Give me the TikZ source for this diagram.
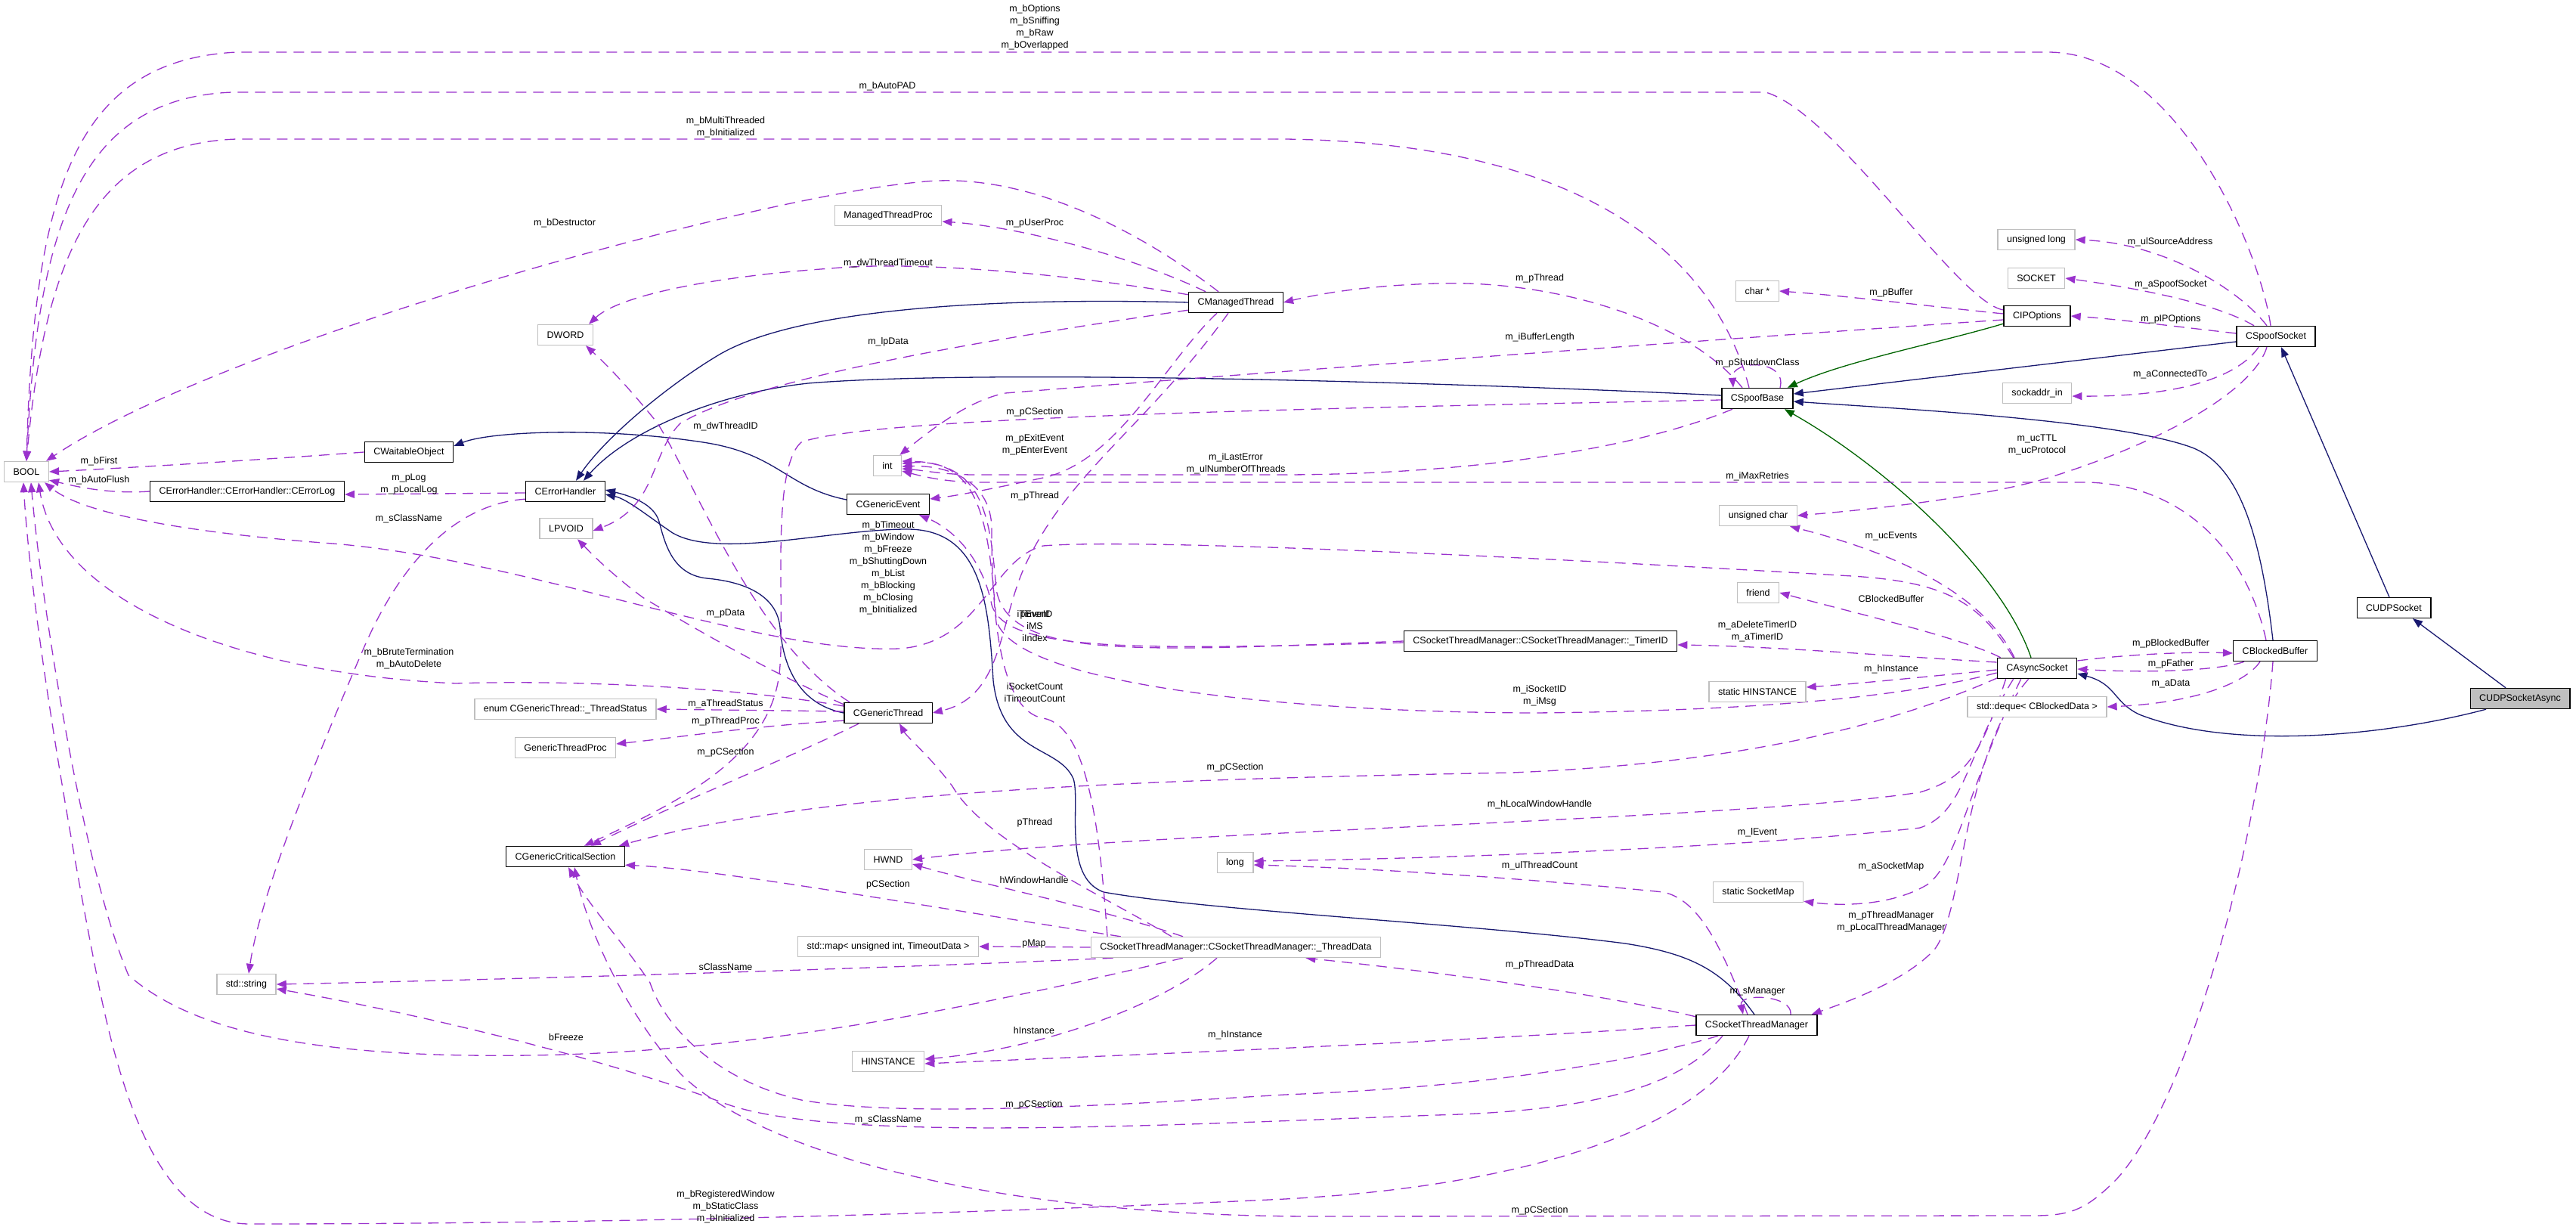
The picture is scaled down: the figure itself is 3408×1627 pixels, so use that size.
\documentclass[tikz,border=0pt]{standalone}
\usepackage{fontspec}
\setmainfont{Liberation Sans}
\usetikzlibrary{arrows.meta,calc}
\definecolor{usec}{HTML}{9A32CD}
\definecolor{inhc}{HTML}{191970}
\definecolor{pinhc}{HTML}{006400}
\definecolor{greyb}{HTML}{BFBFBF}
\newcommand\dfont{\fontsize{12.5}{16}\selectfont}
\pgfdeclarelayer{bg}
\pgfsetlayers{bg,main}
\tikzset{
  clsbox/.style={draw=black, line width=1.4pt, fill=white, minimum height=27pt, inner xsep=12pt, inner ysep=2pt, font=\dfont},
  extbox/.style={clsbox, draw=greyb},
  mainbox/.style={clsbox, fill=greyb},
  elabel/.style={font=\dfont, align=center, inner sep=0pt},
  usedge/.style={draw=usec, line width=1.3pt, dash pattern=on 14pt off 9pt, -{Triangle[length=13pt,width=10pt]}},
  inhedge/.style={draw=inhc, line width=1.3pt, -{Triangle[length=13pt,width=10pt]}},
  pinhedge/.style={draw=pinhc, line width=1.3pt, -{Triangle[length=13pt,width=10pt]}},
}
\begin{document}
\begin{tikzpicture}[x=1pt,y=-1pt]
\useasboundingbox (0,0) rectangle (3408,1627);
% ---------------- nodes ----------------
\node[extbox] (bool) at (35,624) {BOOL};
\node[clsbox] (waitobj) at (541,598) {CWaitableObject};
\node[clsbox] (errlog) at (327,650) {CErrorHandler::CErrorHandler::CErrorLog};
\node[clsbox] (cerrh) at (748,650) {CErrorHandler};
\node[extbox] (lpvoid) at (749,699) {LPVOID};
\node[extbox] (dword) at (748,443) {DWORD};
\node[extbox] (mtproc) at (1175,285) {ManagedThreadProc};
\node[clsbox] (mthread) at (1635,400) {CManagedThread};
\node[extbox] (tstatus) at (748,938) {enum CGenericThread::\_ThreadStatus};
\node[extbox] (gtproc) at (748,989) {GenericThreadProc};
\node[clsbox] (cgcs) at (748,1133) {CGenericCriticalSection};
\node[extbox] (stdstring) at (326,1302) {std::string};
\node[extbox] (intn) at (1174,616) {int};
\node[clsbox] (cgevent) at (1175,667) {CGenericEvent};
\node[clsbox] (gthread) at (1175,943) {CGenericThread};
\node[extbox] (hwnd) at (1175,1137) {HWND};
\node[extbox] (stdmap) at (1175,1252) {std::map< unsigned int, TimeoutData >};
\node[extbox] (hinst) at (1175,1404) {HINSTANCE};
\node[extbox] (tdata) at (1635,1253) {CSocketThreadManager::CSocketThreadManager::\_ThreadData};
\node[extbox] (longn) at (1634,1141) {long};
\node[clsbox] (timerid) at (2038,848) {CSocketThreadManager::CSocketThreadManager::\_TimerID};
\node[extbox] (charp) at (2325,385) {char *};
\node[clsbox] (spoofbase) at (2325,527) {CSpoofBase};
\node[extbox] (uchar) at (2326,682) {unsigned char};
\node[extbox] (friendn) at (2326,784) {friend};
\node[extbox] (shinst) at (2325,915) {static HINSTANCE};
\node[extbox] (ssockmap) at (2326,1180) {static SocketMap};
\node[clsbox] (cstm) at (2324,1356) {CSocketThreadManager};
\node[extbox] (ulong) at (2694,317) {unsigned long};
\node[extbox] (socketn) at (2694,368) {SOCKET};
\node[clsbox] (cipopt) at (2695,418) {CIPOptions};
\node[extbox] (sockaddr) at (2695,520) {sockaddr\_in};
\node[clsbox] (casync) at (2695,884) {CAsyncSocket};
\node[extbox] (deque) at (2695,935) {std::deque< CBlockedData >};
\node[clsbox] (spoofsock) at (3011,445) {CSpoofSocket};
\node[clsbox] (cblock) at (3010,861) {CBlockedBuffer};
\node[clsbox] (cudp) at (3167,804) {CUDPSocket};
\node[mainbox] (cudpa) at (3334,924) {CUDPSocketAsync};
% ---------------- edges ----------------
\begin{pgfonlayer}{bg}
\fill[white] (0,0) rectangle (3408,1627);
% inheritance
\draw[inhedge] ($(cudpa.north)+(-19,0)$) -- ($(cudp.south)+(25,0)$);
\draw[inhedge] ($(cudpa.south)+(-45,0)$) .. controls (3150,975) and (2950,992) .. (2830,945) .. controls (2795,928) and (2800,905) .. ($(casync.east)+(0,7)$);
\draw[inhedge] ($(cudp.north)+(-6,0)$) -- ($(spoofsock.south)+(7,0)$);
\draw[inhedge] ($(spoofsock.west)+(0,7)$) -- ($(spoofbase.east)+(0,-6)$);
\draw[pinhedge] ($(cipopt.south west)+(0,-4)$) .. controls (2560,455) and (2440,478) .. ($(spoofbase.north east)+(-8,0)$);
\draw[inhedge] ($(cblock.north)+(-3,0)$) .. controls (2990,700) and (2960,615) .. (2900,592) .. controls (2800,555) and (2500,540) .. ($(spoofbase.east)+(0,4)$);
\draw[pinhedge] ($(casync.north)+(-8,0)$) .. controls (2650,760) and (2500,620) .. ($(spoofbase.south east)+(-12,0)$);
\draw[inhedge] (mthread.west) .. controls (1300,393) and (1050,410) .. (950,470) .. controls (880,512) and (800,580) .. ($(cerrh.north)+(14,0)$);
\draw[inhedge] ($(spoofbase.west)+(0,-4)$) .. controls (1900,505) and (1300,488) .. (1069,507) .. controls (950,520) and (830,570) .. ($(cerrh.north)+(24,0)$);
\draw[inhedge] ($(cgevent.west)+(0,-6)$) .. controls (1040,645) and (1030,600) .. (930,585) .. controls (800,565) and (650,570) .. ($(waitobj.east)+(0,-8)$);
\draw[inhedge] (gthread.west) .. controls (1050,930) and (1035,870) .. (1032,830) .. controls (1028,790) and (990,770) .. (935,765) .. controls (890,760) and (880,720) .. (872,690) .. controls (865,665) and (830,655) .. ($(cerrh.east)+(0,-2)$);
\draw[inhedge] ($(cstm.north)+(-3,0)$) .. controls (2280,1285) and (2240,1262) .. (2150,1248) .. controls (1950,1222) and (1600,1205) .. (1460,1180) .. controls (1405,1160) and (1430,1060) .. (1420,1030) .. controls (1400,985) and (1325,1000) .. (1314,900) .. controls (1308,800) and (1300,700) .. (1200,700) .. controls (1100,700) and (950,740) .. (890,705) .. controls (860,685) and (830,660) .. ($(cerrh.east)+(0,4)$);
% usage -> BOOL
\draw[usedge] ($(spoofsock.north)+(-7,0)$) .. controls (2990,330) and (2880,69) .. (2709,69) -- (313,69) .. controls (100,80) and (45,250) .. (bool.north);
\draw[usedge] ($(cipopt.west)+(0,-8)$) .. controls (2590,400) and (2430,150) .. (2336,122) -- (307,122) .. controls (110,130) and (50,290) .. (bool.north);
\draw[usedge] ($(spoofbase.north)+(-11,0)$) .. controls (2280,380) and (2150,190) .. (1700,184) -- (313,184) .. controls (130,190) and (60,330) .. (bool.north);
\draw[usedge] ($(mthread.north)+(-23,0)$) .. controls (1500,300) and (1350,225) .. (1215,241) .. controls (1000,260) and (300,450) .. ($(bool.north east)+(-4,0)$);
\draw[usedge] (waitobj.west) .. controls (350,608) and (150,620) .. (bool.east);
\draw[usedge] (errlog.west) .. controls (140,654) and (95,642) .. ($(bool.south east)+(0,-3)$);
\draw[usedge] ($(gthread.west)+(0,-9)$) .. controls (950,905) and (720,900) .. (603,904) .. controls (300,890) and (75,790) .. ($(bool.south)+(16,0)$);
\draw[usedge] ($(casync.north west)+(22,0)$) .. controls (2620,800) and (2580,770) .. (2450,762) .. controls (2000,735) and (1500,712) .. (1380,722) .. controls (1310,740) and (1300,850) .. (1190,858) .. controls (1000,865) and (700,740) .. (440,719) .. controls (250,705) and (110,680) .. ($(bool.south east)+(-6,0)$);
\draw[usedge] ($(tdata.south)+(-70,0)$) .. controls (1300,1330) and (1000,1392) .. (700,1396) .. controls (400,1400) and (250,1360) .. (170,1290) .. controls (110,1150) and (55,800) .. ($(bool.south)+(6,0)$);
\draw[usedge] ($(cstm.south)+(-10,0)$) .. controls (2250,1500) and (2000,1570) .. (1700,1586) .. controls (1300,1605) and (800,1619) .. (330,1619) .. controls (230,1619) and (170,1500) .. (130,1300) .. controls (90,1100) and (40,800) .. ($(bool.south)+(-4,0)$);
% CSpoofSocket uses
\draw[usedge] ($(spoofsock.north)+(-12,0)$) .. controls (2960,380) and (2860,322) .. (ulong.east);
\draw[usedge] ($(spoofsock.north)+(-29,0)$) .. controls (2930,400) and (2820,380) .. (socketn.east);
\draw[usedge] ($(spoofsock.west)+(0,-4)$) .. controls (2880,432) and (2800,422) .. (cipopt.east);
\draw[usedge] ($(spoofsock.south)+(-23,0)$) .. controls (2960,500) and (2880,525) .. ($(sockaddr.east)+(0,4)$);
\draw[usedge] ($(spoofsock.south)+(-12,0)$) .. controls (2980,520) and (2850,590) .. (2700,635) .. controls (2600,662) and (2450,676) .. (uchar.east);
% CIPOptions uses
\draw[usedge] ($(cipopt.west)+(0,-3)$) .. controls (2550,405) and (2450,392) .. (charp.east);
\draw[usedge] ($(cipopt.west)+(0,5)$) .. controls (2400,440) and (1700,490) .. (1330,520) .. controls (1280,530) and (1230,570) .. ($(intn.north east)+(-3,0)$);
% CSpoofBase uses
\draw[usedge] ($(spoofbase.north)+(30,0)$) .. controls (2365,475) and (2290,475) .. ($(spoofbase.north)+(-32,0)$);
\draw[usedge] ($(spoofbase.north)+(-20,0)$) .. controls (2230,420) and (2050,370) .. (1900,375) .. controls (1800,378) and (1740,390) .. (mthread.east);
\draw[usedge] ($(spoofbase.south)+(-33,0)$) .. controls (2200,580) and (2000,627) .. (1700,628) -- (1290,628) .. controls (1250,628) and (1220,622) .. ($(intn.east)+(0,4)$);
\draw[usedge] ($(spoofbase.west)+(0,2)$) .. controls (1700,541) and (1150,552) .. (1060,585) .. controls (1020,620) and (1038,800) .. (1032,880) .. controls (1025,1000) and (900,1060) .. ($(cgcs.north)+(25,0)$);
% CBlockedBuffer uses
\draw[usedge] ($(cblock.north)+(-12,0)$) .. controls (2970,720) and (2880,640) .. (2760,638) -- (1300,638) .. controls (1250,638) and (1220,630) .. ($(intn.east)+(0,7)$);
\draw[usedge] ($(cblock.south west)+(15,0)$) .. controls (2940,886) and (2850,891) .. ($(casync.east)+(0,1)$);
\draw[usedge] ($(cblock.south)+(-20,0)$) .. controls (2970,905) and (2900,930) .. (deque.east);
\draw[usedge] ($(cblock.south)+(-3,0)$) .. controls (2990,1100) and (2900,1450) .. (2800,1560) .. controls (2760,1600) and (2740,1608) .. (2690,1608) -- (1750,1609) .. controls (1300,1610) and (1000,1520) .. (900,1420) .. controls (820,1330) and (775,1220) .. ($(cgcs.south)+(12,0)$);
% CAsyncSocket uses
\draw[usedge] ($(casync.north)+(-30,0)$) .. controls (2620,780) and (2500,730) .. ($(uchar.south east)+(-10,0)$);
\draw[usedge] ($(casync.north west)+(5,0)$) .. controls (2600,845) and (2450,810) .. (friendn.east);
\draw[usedge] ($(casync.west)+(0,-8)$) .. controls (2500,868) and (2350,855) .. ($(timerid.east)+(0,5)$);
\draw[usedge] ($(casync.west)+(0,2)$) .. controls (2550,895) and (2450,905) .. ($(shinst.east)+(0,-6)$);
\draw[usedge] ($(casync.west)+(0,6)$) .. controls (2560,911) and (2400,940) .. (2029,943) .. controls (1700,942) and (1340,905) .. (1318,820) .. controls (1308,700) and (1300,605) .. ($(intn.east)+(0,-3)$);
\draw[usedge] ($(casync.south west)+(2,-2)$) .. controls (2500,960) and (2300,1010) .. (2000,1022) .. controls (1600,1030) and (1100,1040) .. ($(cgcs.north east)+(-8,0)$);
\draw[usedge] ($(casync.south west)+(12,0)$) .. controls (2620,1000) and (2600,1030) .. (2540,1048) .. controls (2300,1085) and (1500,1100) .. (hwnd.east);
\draw[usedge] ($(casync.south west)+(22,0)$) .. controls (2600,1000) and (2600,1075) .. (2540,1095) .. controls (2300,1122) and (1900,1136) .. ($(longn.east)+(0,-2)$);
\draw[usedge] ($(casync.south west)+(32,0)$) .. controls (2600,1050) and (2590,1140) .. (2550,1170) .. controls (2500,1200) and (2430,1198) .. ($(ssockmap.south east)+(0,-2)$);
\draw[usedge] ($(casync.south west)+(42,0)$) .. controls (2595,1000) and (2600,1200) .. (2560,1255) .. controls (2520,1300) and (2430,1330) .. ($(cstm.north east)+(-8,0)$);
\draw[usedge] ($(casync.east)+(0,-10)$) .. controls (2820,865) and (2900,862) .. ($(cblock.west)+(0,3)$);
% _TimerID uses
\draw[usedge] (timerid.west) .. controls (1500,862) and (1335,872) .. (1318,780) .. controls (1310,680) and (1300,612) .. ($(intn.east)+(0,-6)$);
\draw[usedge] ($(timerid.west)+(0,2)$) .. controls (1500,860) and (1330,862) .. (1312,800) .. controls (1300,740) and (1262,700) .. ($(cgevent.south east)+(-14,0)$);
% CManagedThread uses
\draw[usedge] ($(mthread.north)+(-40,0)$) .. controls (1500,340) and (1350,300) .. ($(mtproc.east)+(0,8)$);
\draw[usedge] ($(mthread.north west)+(0,4)$) .. controls (1400,360) and (1200,345) .. (1100,355) .. controls (950,365) and (820,390) .. ($(dword.north east)+(-6,0)$);
\draw[usedge] ($(mthread.south west)+(0,-4)$) .. controls (1300,450) and (1000,500) .. (900,560) .. controls (860,600) and (870,670) .. ($(lpvoid.east)+(0,3)$);
\draw[usedge] ($(mthread.south)+(-25,0)$) .. controls (1540,480) and (1480,610) .. (1380,632) .. controls (1320,645) and (1270,655) .. ($(cgevent.east)+(0,-7)$);
\draw[usedge] ($(mthread.south)+(-10,0)$) .. controls (1520,560) and (1420,620) .. (1360,740) .. controls (1320,820) and (1330,920) .. (gthread.east);
% CGenericThread uses
\draw[usedge] ($(gthread.north west)+(8,0)$) .. controls (1000,850) and (920,640) .. (870,560) .. controls (830,510) and (800,480) .. ($(dword.south east)+(-10,0)$);
\draw[usedge] ($(gthread.north west)+(0,3)$) .. controls (1000,880) and (900,820) .. (850,790) .. controls (810,760) and (785,735) .. ($(lpvoid.south)+(15,0)$);
\draw[usedge] ($(gthread.west)+(0,-2)$) -- (tstatus.east);
\draw[usedge] ($(gthread.south west)+(0,-4)$) .. controls (1000,960) and (900,975) .. ($(gtproc.east)+(0,-5)$);
\draw[usedge] ($(gthread.south west)+(20,0)$) .. controls (1050,1000) and (900,1060) .. ($(cgcs.north)+(34,0)$);
% _ThreadData uses
\draw[usedge] ($(tdata.north)+(-170,0)$) .. controls (1455,1100) and (1440,960) .. (1380,950) .. controls (1320,940) and (1312,800) .. (1312,700) .. controls (1312,640) and (1260,615) .. ($(intn.east)+(0,1)$);
\draw[usedge] ($(tdata.north)+(-85,0)$) .. controls (1450,1180) and (1300,1110) .. (1260,1040) .. controls (1230,1000) and (1200,975) .. ($(gthread.south)+(15,0)$);
\draw[usedge] ($(tdata.north)+(-70,0)$) .. controls (1450,1200) and (1300,1170) .. ($(hwnd.east)+(0,6)$);
\draw[usedge] ($(tdata.north west)+(40,0)$) .. controls (1200,1195) and (950,1150) .. ($(cgcs.south east)+(0,-3)$);
\draw[usedge] (tdata.west) -- (stdmap.east);
\draw[usedge] ($(tdata.south west)+(30,0)$) .. controls (1200,1280) and (700,1295) .. (stdstring.east);
\draw[usedge] ($(tdata.south)+(-25,0)$) .. controls (1550,1320) and (1400,1385) .. ($(hinst.east)+(0,-3)$);
% CSocketThreadManager uses
\draw[usedge] ($(cstm.north)+(45,0)$) .. controls (2372,1316) and (2300,1313) .. ($(cstm.north)+(-18,0)$);
\draw[usedge] ($(cstm.north west)+(0,3)$) .. controls (2100,1310) and (1850,1280) .. ($(tdata.south east)+(-100,0)$);
\draw[usedge] ($(cstm.north)+(-12,0)$) .. controls (2280,1260) and (2250,1190) .. (2200,1180) .. controls (2000,1160) and (1800,1148) .. ($(longn.east)+(0,3)$);
\draw[usedge] (cstm.west) .. controls (1900,1380) and (1500,1395) .. ($(hinst.east)+(0,3)$);
\draw[usedge] ($(cstm.south west)+(30,0)$) .. controls (2100,1420) and (1900,1440) .. (1700,1448) .. controls (1500,1460) and (1200,1480) .. (1060,1455) .. controls (950,1430) and (880,1360) .. (860,1300) .. controls (820,1240) and (780,1200) .. ($(cgcs.south)+(4,0)$);
\draw[usedge] ($(cstm.south)+(-45,0)$) .. controls (2220,1440) and (2100,1470) .. (1900,1475) .. controls (1500,1490) and (1100,1510) .. (960,1460) .. controls (800,1400) and (550,1340) .. ($(stdstring.east)+(0,6)$);
% CErrorHandler uses
\draw[usedge] ($(cerrh.west)+(0,2)$) -- ($(errlog.east)+(0,4)$);
\draw[usedge] ($(cerrh.south west)+(0,-4)$) .. controls (620,665) and (540,720) .. (480,860) .. controls (420,1000) and (345,1180) .. ($(stdstring.north)+(3,0)$);
\end{pgfonlayer}
% ---------------- labels ----------------
\node[elabel] (l1) at (1369,36.6) {m\_bOptions\\m\_bSniffing\\m\_bRaw\\m\_bOverlapped};
\node[elabel] (l2) at (1174,114) {m\_bAutoPAD};
\node[elabel] (l3) at (960,168) {m\_bMultiThreaded\\m\_bInitialized};
\node[elabel] (l4) at (747,295) {m\_bDestructor};
\node[elabel] (l5) at (1369,295) {m\_pUserProc};
\node[elabel] (l6) at (1175,348) {m\_dwThreadTimeout};
\node[elabel] (l7) at (2037,368) {m\_pThread};
\node[elabel] (l8) at (2502,387) {m\_pBuffer};
\node[elabel] (l9) at (2871,320) {m\_ulSourceAddress};
\node[elabel] (l10) at (2872,376) {m\_aSpoofSocket};
\node[elabel] (l11) at (2872,422) {m\_pIPOptions};
\node[elabel] (l12) at (2037,446) {m\_iBufferLength};
\node[elabel] (l13) at (1175,452) {m\_lpData};
\node[elabel] (l14) at (2325,480) {m\_pShutdownClass};
\node[elabel] (l15) at (2871,495) {m\_aConnectedTo};
\node[elabel] (l16) at (1369,545) {m\_pCSection};
\node[elabel] (l17) at (960,564) {m\_dwThreadID};
\node[elabel] (l18) at (1369,588) {m\_pExitEvent\\m\_pEnterEvent};
\node[elabel] (l19) at (2695,588) {m\_ucTTL\\m\_ucProtocol};
\node[elabel] (l20) at (1635,613) {m\_iLastError\\m\_ulNumberOfThreads};
\node[elabel] (l21) at (131,610) {m\_bFirst};
\node[elabel] (l22) at (2325,630) {m\_iMaxRetries};
\node[elabel] (l23) at (131,635) {m\_bAutoFlush};
\node[elabel] (l24) at (541,640) {m\_pLog\\m\_pLocalLog};
\node[elabel] (l25) at (1369,656) {m\_pThread};
\node[elabel] (l26) at (541,686) {m\_sClassName};
\node[elabel] (l27) at (1175,751) {m\_bTimeout\\m\_bWindow\\m\_bFreeze\\m\_bShuttingDown\\m\_bList\\m\_bBlocking\\m\_bClosing\\m\_bInitialized};
\node[elabel] (l28) at (2502,709) {m\_ucEvents};
\node[elabel] (l29) at (2502,792) {CBlockedBuffer};
\node[elabel] (l30) at (960,811) {m\_pData};
\node[elabel] (l31) at (1369,828.5) {iTimerID\\iMS\\iIndex};
\node[elabel] (l32) at (1369,813) {pEvent};
\node[elabel] (l33) at (2325,835) {m\_aDeleteTimerID\\m\_aTimerID};
\node[elabel] (l34) at (2872,851) {m\_pBlockedBuffer};
\node[elabel] (l35) at (541,871) {m\_bBruteTermination\\m\_bAutoDelete};
\node[elabel] (l36) at (2872,878) {m\_pFather};
\node[elabel] (l37) at (2502,885) {m\_hInstance};
\node[elabel] (l38) at (2872,904) {m\_aData};
\node[elabel] (l39) at (1369,916) {iSocketCount\\iTimeoutCount};
\node[elabel] (l40) at (2037,920) {m\_iSocketID\\m\_iMsg};
\node[elabel] (l41) at (960,931) {m\_aThreadStatus};
\node[elabel] (l42) at (960,954) {m\_pThreadProc};
\node[elabel] (l43) at (960,995) {m\_pCSection};
\node[elabel] (l44) at (1634,1015) {m\_pCSection};
\node[elabel] (l45) at (2037,1064) {m\_hLocalWindowHandle};
\node[elabel] (l46) at (1369,1088) {pThread};
\node[elabel] (l47) at (2325,1101) {m\_lEvent};
\node[elabel] (l48) at (2037,1145) {m\_ulThreadCount};
\node[elabel] (l49) at (2502,1146) {m\_aSocketMap};
\node[elabel] (l50) at (1368,1164) {hWindowHandle};
\node[elabel] (l51) at (1175,1170) {pCSection};
\node[elabel] (l52) at (2502,1219) {m\_pThreadManager\\m\_pLocalThreadManager};
\node[elabel] (l53) at (1368,1248) {pMap};
\node[elabel] (l54) at (2037,1276) {m\_pThreadData};
\node[elabel] (l55) at (960,1279) {sClassName};
\node[elabel] (l56) at (2325,1311) {m\_sManager};
\node[elabel] (l57) at (1368,1363) {hInstance};
\node[elabel] (l58) at (1634,1369) {m\_hInstance};
\node[elabel] (l59) at (749,1372) {bFreeze};
\node[elabel] (l60) at (1368,1461) {m\_pCSection};
\node[elabel] (l61) at (1175,1481) {m\_sClassName};
\node[elabel] (l62) at (960,1596) {m\_bRegisteredWindow\\m\_bStaticClass\\m\_bInitialized};
\node[elabel] (l63) at (2037,1601) {m\_pCSection};
\end{tikzpicture}
\end{document}
